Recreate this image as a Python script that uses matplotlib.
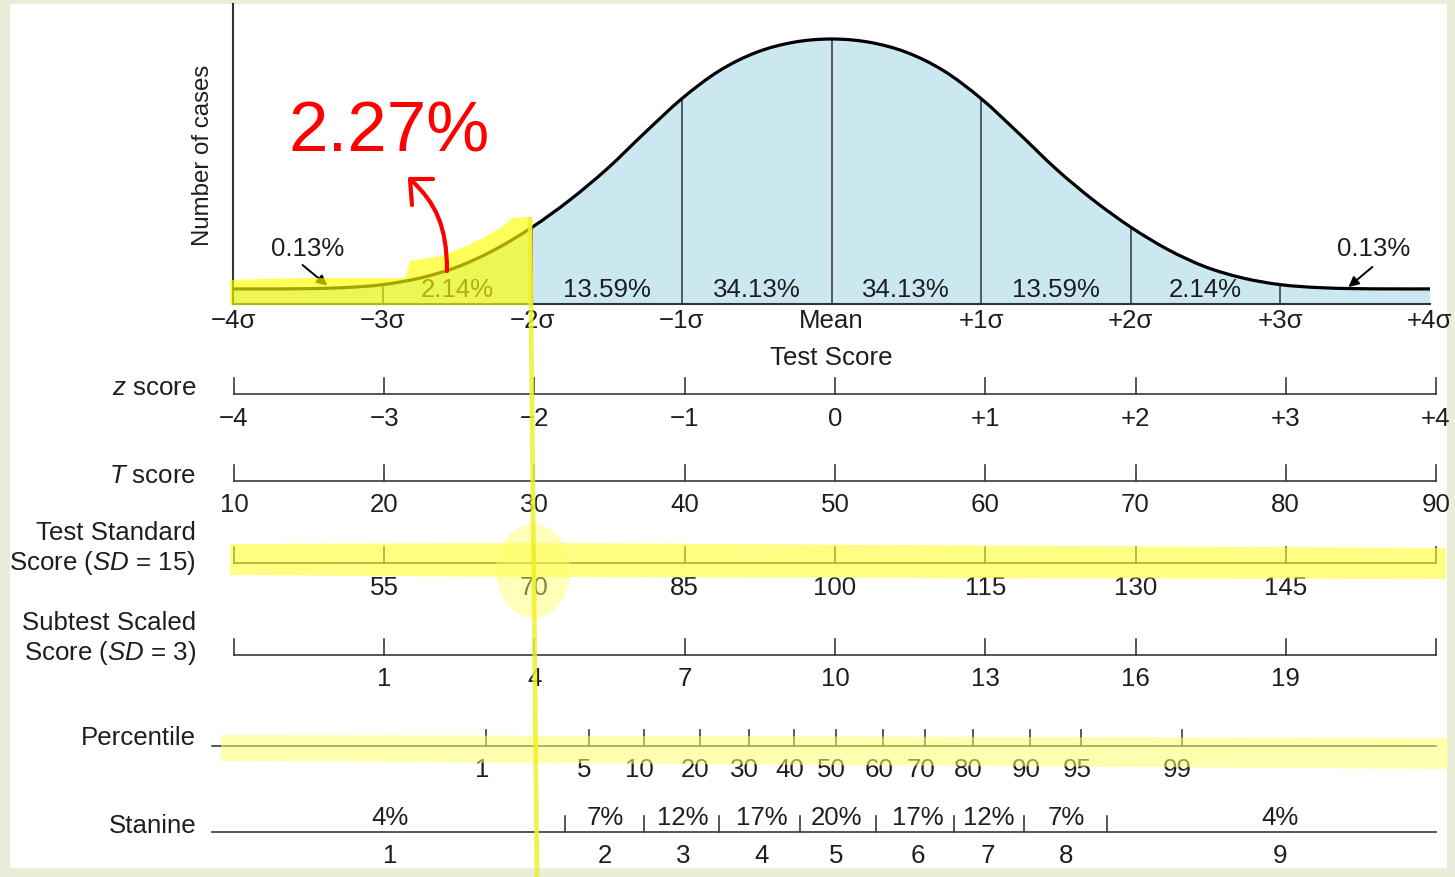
import numpy as np
import matplotlib
matplotlib.use("Agg")
import matplotlib.pyplot as plt
from matplotlib.path import Path
from matplotlib.patches import PathPatch, Polygon, Ellipse, Rectangle

plt.rcParams["font.family"] = ["Liberation Sans", "DejaVu Sans"]
plt.rcParams["mathtext.fontset"] = "custom"
plt.rcParams["mathtext.rm"] = "Liberation Sans"
plt.rcParams["mathtext.it"] = "Liberation Sans:italic"

W, H = 1455, 878
INK = "#1e1e1e"
FS = 18.6

# ---- data ----
# curve height (relative to the peak), sampled every 0.25 sigma
curve_z = np.linspace(-4, 4, 33)
curve_h = [0.057, 0.057, 0.058, 0.062, 0.073, 0.098, 0.140, 0.205,
           0.290, 0.392, 0.510, 0.645, 0.775, 0.880, 0.950, 0.988,
           1.000,
           0.988, 0.950, 0.880, 0.775, 0.645, 0.510, 0.392, 0.290,
           0.205, 0.140, 0.098, 0.073, 0.062, 0.058, 0.057, 0.057]

sigma_ticks = [-4, -3, -2, -1, 0, 1, 2, 3, 4]
sigma_labels = ["−4σ", "−3σ", "−2σ", "−1σ", "Mean", "+1σ", "+2σ", "+3σ", "+4σ"]
area_mid = [-2.5, -1.5, -0.5, 0.5, 1.5, 2.5]
area_pct = ["2.14%", "13.59%", "34.13%", "34.13%", "13.59%", "2.14%"]
tail_pct = "0.13%"

z_labels = ["−4", "−3", "−2", "−1", "0", "+1", "+2", "+3", "+4"]
t_labels = ["10", "20", "30", "40", "50", "60", "70", "80", "90"]
ss_labels = ["", "55", "70", "85", "100", "115", "130", "145", ""]
sub_labels = ["", "1", "4", "7", "10", "13", "16", "19", ""]

pct_values = [1, 5, 10, 20, 30, 40, 50, 60, 70, 80, 90, 95, 99]
pct_z = [-2.32, -1.64, -1.27, -0.90, -0.57, -0.27, 0.005, 0.32, 0.60, 0.92, 1.30, 1.64, 2.31]

stan_bounds = [-1.80, -1.27, -0.77, -0.23, 0.27, 0.79, 1.26, 1.81]
stan_mid = [-2.96, -1.53, -1.01, -0.49, 0.01, 0.55, 1.02, 1.54, 2.96]
stan_pct = ["4%", "7%", "12%", "17%", "20%", "17%", "12%", "7%", "4%"]
stan_num = ["1", "2", "3", "4", "5", "6", "7", "8", "9"]


def smooth_path(xs, ys):
    pts = np.column_stack([xs, ys])
    n = len(pts)
    verts = [pts[0]]
    codes = [Path.MOVETO]
    for i in range(n - 1):
        p0 = pts[max(i - 1, 0)]
        p1 = pts[i]
        p2 = pts[i + 1]
        p3 = pts[min(i + 2, n - 1)]
        verts += [p1 + (p2 - p0) / 6, p2 - (p3 - p1) / 6, p2]
        codes += [Path.CURVE4] * 3
    return verts, codes


fig = plt.figure(figsize=(W / 100, H / 100), dpi=100, facecolor="#e9eed8")


def px_axes(x0, y0, x1, y1, z):
    return fig.add_axes([x0 / W, 1 - y1 / H, (x1 - x0) / W, (y1 - y0) / H], zorder=z)


# background / white sheet
ax_bg = px_axes(0, 0, W, H, 0)
ax_bg.set_xlim(0, W)
ax_bg.set_ylim(H, 0)
ax_bg.axis("off")
ax_bg.add_patch(Rectangle((10, 5), 1437, 864, facecolor="white", edgecolor="none"))

# ---- normal curve ----
ax = px_axes(233, 5, 1430, 305, 2)
ax.patch.set_alpha(0)
ax.set_xlim(-4, 4)
ax.set_ylim(0, 300 / 265)

verts, codes = smooth_path(curve_z, curve_h)
fill_verts = verts + [(4, 0), (-4, 0), (-4, curve_h[0])]
fill_codes = codes + [Path.LINETO, Path.LINETO, Path.CLOSEPOLY]
ax.add_patch(PathPatch(Path(fill_verts, fill_codes), facecolor="#cbe8f1", edgecolor="none", zorder=1))
ax.add_patch(PathPatch(Path(verts, codes), facecolor="none", edgecolor="black", lw=2.3, zorder=4,
                       clip_on=False))

for s in sigma_ticks[1:-1]:
    h = curve_h[list(curve_z).index(s)]
    ax.plot([s, s], [0, h], color="#333333", lw=1.1, zorder=2)

for m, p in zip(area_mid, area_pct):
    ax.text(m, 0.057, p, ha="center", va="center", fontsize=FS, color=INK, zorder=3)

arrow_kw = dict(arrowstyle="-|>", color="black", lw=1.4, mutation_scale=15, shrinkA=0, shrinkB=0)
ax.text(-3.5, 0.21, tail_pct, ha="center", va="center", fontsize=FS, color=INK)
ax.annotate("", xy=(-3.37, 0.070), xytext=(-3.535, 0.147), arrowprops=arrow_kw)
ax.text(3.62, 0.21, tail_pct, ha="center", va="center", fontsize=FS, color=INK)
ax.annotate("", xy=(3.455, 0.064), xytext=(3.615, 0.14), arrowprops=arrow_kw)

for side in ["top", "right"]:
    ax.spines[side].set_visible(False)
for side in ["left", "bottom"]:
    ax.spines[side].set_color("#333333")
    ax.spines[side].set_linewidth(1.5)
ax.set_yticks([])
ax.set_xticks(sigma_ticks)
ax.set_xticklabels(sigma_labels)
ax.tick_params(axis="x", length=0, pad=3, labelsize=FS, labelcolor=INK)
ax.set_xlabel("Test Score", fontsize=FS, color=INK, labelpad=9)
ax.set_ylabel("Number of cases", fontsize=17.3, color=INK, labelpad=14)

# ---- score scales ----
ax_sc = px_axes(0, 0, W, H, 1)
ax_sc.set_xlim((0 - 835) / 150.25, (W - 835) / 150.25)
ax_sc.set_ylim(H, 0)
ax_sc.axis("off")
line_kw = dict(color="#3a3a3a", lw=1.2)

rows = [(395, 419, z_labels), (482, 505, t_labels), (564, 588, ss_labels), (656, 679, sub_labels)]
for y_line, y_lab, labels in rows:
    ax_sc.plot([-4, 4], [y_line, y_line], **line_kw)
    for s, lab in zip(sigma_ticks, labels):
        ax_sc.plot([s, s], [y_line, y_line - 16], **line_kw)
        if lab:
            ax_sc.text(s, y_lab, lab, ha="center", va="center", fontsize=FS, color=INK)

left_z = (212 - 835) / 150.25
ax_sc.plot([left_z, 4], [747, 747], **line_kw)
for p, zz in zip(pct_values, pct_z):
    ax_sc.plot([zz, zz], [747, 731], **line_kw)
    ax_sc.text(zz - 0.03, 770, str(p), ha="center", va="center", fontsize=FS, color=INK)

ax_sc.plot([left_z, 4], [833, 833], **line_kw)
for b in stan_bounds:
    ax_sc.plot([b, b], [833, 817], **line_kw)
for m, p, n in zip(stan_mid, stan_pct, stan_num):
    ax_sc.text(m, 818, p, ha="center", va="center", fontsize=FS, color=INK)
    ax_sc.text(m, 856, n, ha="center", va="center", fontsize=FS, color=INK)

row_names = [(388, r"$\mathit{z}$ score"), (476, r"$\mathit{T}$ score"),
             (533, "Test Standard"), (563, r"Score ($\mathit{SD}$ = 15)"),
             (623, "Subtest Scaled"), (653, r"Score ($\mathit{SD}$ = 3)"),
             (738, "Percentile"), (826, "Stanine")]
for y, name in row_names:
    ax_bg.text(196, y, name, ha="right", va="center", fontsize=FS, color=INK)

# ---- hand-made highlights on top ----
ax_over = px_axes(0, 0, W, H, 6)
ax_over.set_xlim(0, W)
ax_over.set_ylim(H, 0)
ax_over.axis("off")
ax_over.patch.set_alpha(0)

ax_over.add_patch(Polygon([(230, 281), (300, 279), (405, 279), (410, 262), (440, 257), (462, 249),
                           (485, 238), (505, 226), (512, 219), (528, 218), (532, 222), (532, 306),
                           (230, 306)], closed=True, facecolor="#ffff00", edgecolor="none", alpha=0.65))
ax_over.add_patch(Polygon([(230, 545), (540, 544), (1446, 549), (1446, 580), (540, 578), (230, 576)],
                          closed=True, facecolor="#ffff30", edgecolor="none", alpha=0.6))
ax_over.add_patch(Ellipse((533, 572), 74, 94, facecolor="#ffff66", edgecolor="none", alpha=0.45))
ax_over.add_patch(Polygon([(221, 736), (1448, 739), (1448, 770), (221, 762)], closed=True,
                          facecolor="#ffff70", edgecolor="none", alpha=0.55))
ax_over.plot([530, 537], [218, 878], color="#f0f02a", lw=3.4, alpha=0.85, solid_capstyle="butt")

ax_over.text(288, 152, "2.27%", color="#ff0000", fontsize=51, ha="left", va="baseline")
arrow = Path([(447, 272), (447, 228), (436, 204), (411, 181)],
             [Path.MOVETO, Path.CURVE4, Path.CURVE4, Path.CURVE4])
ax_over.add_patch(PathPatch(arrow, facecolor="none", edgecolor="#ff0000", lw=3, capstyle="round"))
ax_over.plot([433, 410, 412], [180, 180, 206], color="#ff0000", lw=3, solid_capstyle="round",
             solid_joinstyle="round")

fig.savefig("out.png", dpi=100, facecolor=fig.get_facecolor())
